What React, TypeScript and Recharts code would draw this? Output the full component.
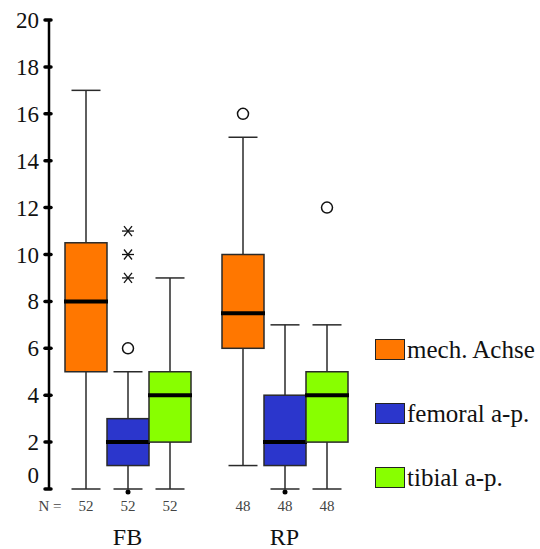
import { Bar, ComposedChart, XAxis, YAxis } from "recharts";

const groups = ["FB", "RP"];
const seriesNames = ["mech. Achse", "femoral a-p.", "tibial a-p."];
const seriesColors = ["#FF7700", "#2B36CC", "#88FF00"];
const yTicks = [0, 2, 4, 6, 8, 10, 12, 14, 16, 18, 20];

// box stats per group (FB, RP)
const mechMin = [0, 1];
const mechQ1 = [5, 6];
const mechMed = [8, 7.5];
const mechQ3 = [10.5, 10];
const mechMax = [17, 15];
const mechOut = [[], [16]];
const mechExt = [[], []];
const mechDots = [[], []];
const mechN = [52, 48];

const femMin = [0, 0];
const femQ1 = [1, 1];
const femMed = [2, 2];
const femQ3 = [3, 4];
const femMax = [5, 7];
const femOut = [[6], []];
const femExt = [[9, 10, 11], []];
const femDots = [[0], [0]];
const femN = [52, 48];

const tibMin = [0, 0];
const tibQ1 = [2, 2];
const tibMed = [4, 4];
const tibQ3 = [5, 5];
const tibMax = [9, 7];
const tibOut = [[], [12]];
const tibExt = [[], []];
const tibDots = [[], []];
const tibN = [52, 48];

interface Stats {
  min: number;
  q1: number;
  med: number;
  q3: number;
  max: number;
  out: number[];
  ext: number[];
  dots: number[];
  n: number;
}

const pick = (
  i: number,
  min: number[], q1: number[], med: number[], q3: number[], max: number[],
  out: number[][], ext: number[][], dots: number[][], n: number[]
): Stats => ({
  min: min[i], q1: q1[i], med: med[i], q3: q3[i], max: max[i],
  out: out[i], ext: ext[i], dots: dots[i], n: n[i],
});

const data = groups.map((g, i) => ({
  group: g,
  mech: pick(i, mechMin, mechQ1, mechMed, mechQ3, mechMax, mechOut, mechExt, mechDots, mechN),
  fem: pick(i, femMin, femQ1, femMed, femQ3, femMax, femOut, femExt, femDots, femN),
  tib: pick(i, tibMin, tibQ1, tibMed, tibQ3, tibMax, tibOut, tibExt, tibDots, tibN),
}));

const seriesKeys = ["mech", "fem", "tib"] as const;

const FONT = "'Liberation Serif', 'Times New Roman', serif";
const EDGE = "#2a2a2a";

function BoxShape(props: any) {
  const { x, y, width, height, stats, fill } = props;
  const s = stats as Stats;
  const ppu = height / (s.max - s.min);
  const yOf = (v: number) => y + (s.max - v) * ppu;
  const cx = x + width / 2;
  const cap = 14.5;
  const bottom = y + height + s.min * ppu;
  return (
    <g>
      <line x1={cx} x2={cx} y1={yOf(s.max)} y2={yOf(s.q3)} stroke={EDGE} strokeWidth={1.5} />
      <line x1={cx} x2={cx} y1={yOf(s.q1)} y2={yOf(s.min)} stroke={EDGE} strokeWidth={1.5} />
      <line x1={cx - cap} x2={cx + cap} y1={yOf(s.max)} y2={yOf(s.max)} stroke={EDGE} strokeWidth={1.5} />
      <line x1={cx - cap} x2={cx + cap} y1={yOf(s.min)} y2={yOf(s.min)} stroke={EDGE} strokeWidth={1.5} />
      <rect
        x={x}
        y={yOf(s.q3)}
        width={width}
        height={yOf(s.q1) - yOf(s.q3)}
        fill={fill}
        stroke={EDGE}
        strokeWidth={1.5}
      />
      <line x1={x - 1} x2={x + width + 1} y1={yOf(s.med)} y2={yOf(s.med)} stroke="#000" strokeWidth={4} />
      {s.out.map((v) => (
        <circle key={"o" + v} cx={cx} cy={yOf(v)} r={5.5} fill="#fff" stroke="#111" strokeWidth={1.5} />
      ))}
      {s.ext.map((v) => {
        const cy = yOf(v);
        return (
          <g key={"e" + v} stroke="#111" strokeWidth={1.3}>
            <line x1={cx - 6} x2={cx + 6} y1={cy} y2={cy} />
            <line x1={cx - 4} x2={cx + 4} y1={cy - 5} y2={cy + 5} />
            <line x1={cx - 4} x2={cx + 4} y1={cy + 5} y2={cy - 5} />
          </g>
        );
      })}
      {s.dots.map((v) => (
        <circle key={"d" + v} cx={cx} cy={yOf(v) + 3} r={2.5} fill="#000" />
      ))}
      <text
        x={cx}
        y={bottom + 22}
        textAnchor="middle"
        fontFamily={FONT}
        fontSize={15}
        fill="#444"
      >
        {s.n}
      </text>
    </g>
  );
}

function YTick(props: any) {
  const { x, y, payload } = props;
  const dy = payload.value === 0 ? -14 : 0;
  return (
    <g>
      <line x1={x - 4} x2={x + 2} y1={y} y2={y} stroke="#000" strokeWidth={3.5} strokeLinecap="round" />
      <text
        x={x - 10}
        y={y + dy}
        dy={8}
        textAnchor="end"
        fontFamily={FONT}
        fontSize={23}
        fill="#111"
      >
        {payload.value}
      </text>
    </g>
  );
}

function XTick(props: any) {
  const { x, y, payload, index } = props;
  return (
    <g>
      {index === 0 && (
        <text x={50} y={y + 22} textAnchor="middle" fontFamily={FONT} fontSize={15} fill="#444">
          N =
        </text>
      )}
      <text x={x} y={y + 56} textAnchor="middle" fontFamily={FONT} fontSize={24} fill="#111">
        {payload.value}
      </text>
    </g>
  );
}

export default function App() {
  return (
    <div style={{ position: "absolute", left: 0, top: 0, width: 540, height: 549, background: "#fff" }}>
      <ComposedChart
        width={540}
        height={549}
        data={data}
        margin={{ top: 20, right: 177, bottom: 20, left: 0 }}
        barGap={0}
        barSize={42}
      >
        <XAxis
          dataKey="group"
          height={40}
          axisLine={false}
          tickLine={false}
          tickSize={0}
          tickMargin={0}
          tick={XTick}
          interval={0}
        />
        <YAxis
          width={49}
          domain={[0, 20]}
          ticks={yTicks}
          interval={0}
          tickSize={0}
          tickMargin={0}
          tickLine={false}
          axisLine={{ stroke: "#000", strokeWidth: 2.5 }}
          tick={YTick}
        />
        {seriesKeys.map((k, i) => (
          <Bar
            key={k}
            name={seriesNames[i]}
            dataKey={(r: any) => [r[k].min, r[k].max]}
            fill={seriesColors[i]}
            isAnimationActive={false}
            shape={(p: any) => <BoxShape {...p} stats={p.payload[k]} fill={seriesColors[i]} />}
          />
        ))}
      </ComposedChart>
      {seriesNames.map((name, i) => (
        <div
          key={name}
          style={{
            position: "absolute",
            left: 375,
            top: 338 + i * 64,
            height: 23,
            display: "flex",
            alignItems: "center",
            fontFamily: FONT,
            fontSize: 25,
            color: "#111",
            whiteSpace: "nowrap",
          }}
        >
          <span
            style={{
              display: "inline-block",
              width: 28,
              height: 19,
              background: seriesColors[i],
              border: "1.5px solid #222",
              marginRight: 2,
            }}
          />
          {name}
        </div>
      ))}
    </div>
  );
}
